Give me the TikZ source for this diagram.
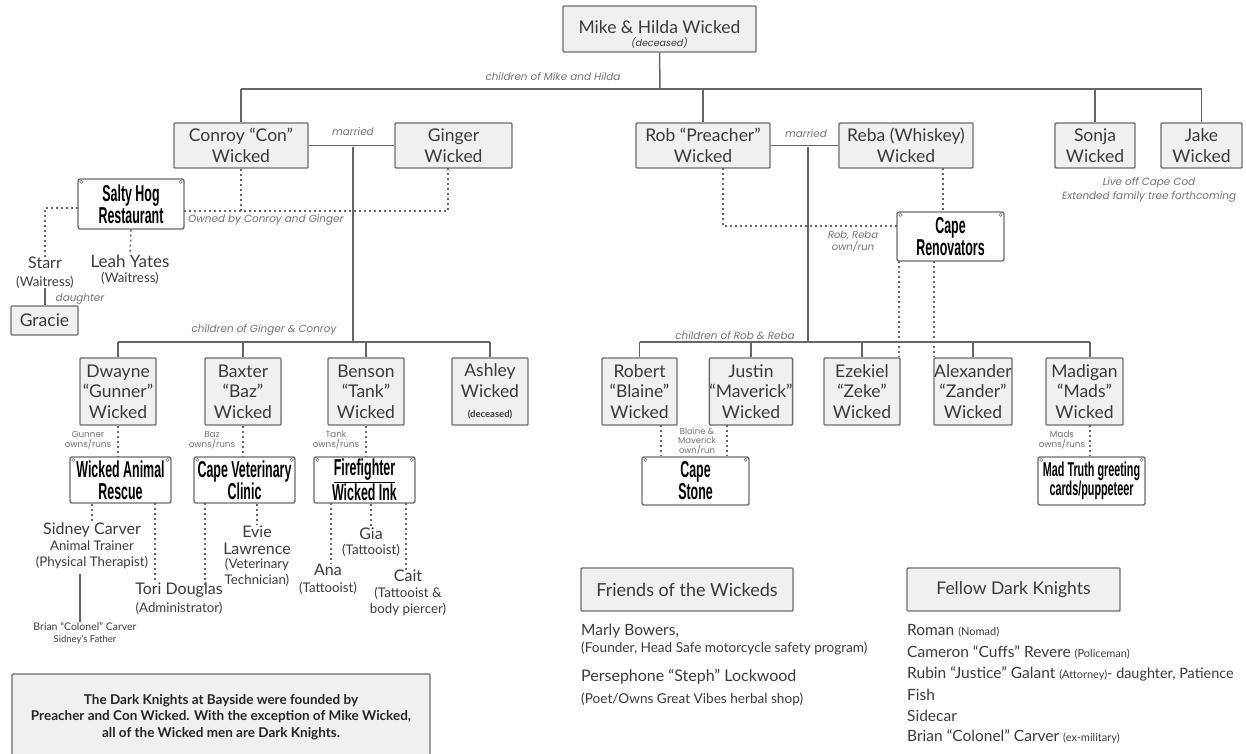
\documentclass[tikz,border=0pt]{standalone}
\usepackage{fontspec}
\setmainfont{Lato}
\newfontfamily\signfont[FakeStretch=0.54]{Liberation Sans}
\newfontfamily\remarkfont{Poppins}
\usepackage{tikz}
\usetikzlibrary{positioning,calc}
\definecolor{inkc}{HTML}{3A3A3A}
\tikzset{person/.style={draw=gray!85!black, fill=gray!12, line width=1.4pt, rounded corners=1pt,
            inner sep=0pt, align=center, text=inkc, font=\fontsize{17.5}{20.5}\selectfont},
         sign/.style={draw=gray!85!black, fill=white, line width=1.4pt, rounded corners=2pt,
            inner sep=0pt, align=center, text=black, font=\signfont\bfseries\fontsize{23}{22}\selectfont},
         wh/.style 2 args={minimum width=#1pt, minimum height=#2pt},
         staff/.style={inner sep=0pt, align=center, text=inkc, font=\fontsize{16}{17}\selectfont},
         job/.style={inner sep=0pt, align=center, text=inkc, font=\fontsize{13.3}{16}\selectfont},
         remark/.style={inner sep=0pt, align=center, text=gray!90!black, font=\remarkfont\itshape\fontsize{10.4}{14}\selectfont},
         runs/.style={remark, font=\remarkfont\fontsize{8.8}{10.5}\selectfont},
         listline/.style={inner sep=0pt, anchor=west, text=inkc, font=\fontsize{15.5}{16}\selectfont},
         family/.style={draw=gray!80!black, line width=1.5pt},
         owner/.style={draw=gray!80!black, line width=1.5pt, dash pattern=on 2pt off 3pt},
         corner/.style={draw=gray, line width=0.6pt}
}
\newcommand{\sm}[1]{{\fontsize{11}{12}\selectfont #1}}
\begin{document}
\begin{tikzpicture}[x=1pt,y=-1pt]
    \useasboundingbox (0,0) rectangle (1246,753);
    % parents
    \node[person, wh={193}{46}] (mike) at (659.5,29) {\rule{0pt}{24pt}Mike \& Hilda Wicked\\[-8pt]{\remarkfont\itshape\fontsize{9.5}{10}\selectfont (deceased)}};
    \node[person, wh={134}{45}] (conroy) at (241,145.5) {Conroy “Con”\\Wicked};
    \node[person, wh={117}{45}] (ginger) at (453.5,145.5) {Ginger\\Wicked};
    \node[person, wh={134}{45}] (rob) at (703,145.5) {Rob “Preacher”\\Wicked};
    \node[person, wh={134}{45}] (reba) at (906,145.5) {Reba (Whiskey)\\Wicked};
    \node[person, wh={80}{45}] (sonja) at (1095,145.5) {Sonja\\Wicked};
    \node[person, wh={81}{45}] (jake) at (1201.5,145.5) {Jake\\Wicked};
    % kids of Con
    \node[person, wh={76}{67}] (dwayne) at (118,391.5) {Dwayne\\“Gunner”\\Wicked};
    \node[person, wh={76}{67}] (baxter) at (243,391.5) {Baxter\\“Baz”\\Wicked};
    \node[person, wh={76}{67}] (benson) at (366,391.5) {Benson\\“Tank”\\Wicked};
    \node[person, wh={76}{67}] (ashley) at (490,391.5) {Ashley\\Wicked\\{\bfseries\fontsize{9.5}{10}\selectfont (deceased)}};
    % kids of Rob
    \node[person, wh={75}{67}] (robert) at (639.5,391.5) {Robert\\“Blaine”\\Wicked};
    \node[person, wh={80}{67}] (justin) at (751,391.5) {Justin\\“Maverick”\\Wicked};
    \node[person, wh={76}{67}] (ezekiel) at (862,391.5) {Ezekiel\\“Zeke”\\Wicked};
    \node[person, wh={78}{67}] (alexander) at (973,391.5) {Alexander\\“Zander”\\Wicked};
    \node[person, wh={77}{67}] (madigan) at (1084.5,391.5) {Madigan\\“Mads”\\Wicked};
    \node[person, wh={67}{29}] (gracie) at (44.5,320.5) {Gracie};
    % businesses
    \node[sign, wh={106}{50}] (salty) at (131,204) {Salty Hog\\Restaurant};
    \node[sign, wh={107}{49}] (renov) at (950.5,236.5) {Cape\\Renovators};
    \node[sign, wh={101}{46}] (animal) at (120.5,480) {Wicked Animal\\Rescue};
    \node[sign, wh={101}{46}] (vet) at (244.5,480) {Cape Veterinary\\Clinic};
    \node[sign, wh={101}{46}] (ink) at (364.5,480) {\underline{Firefighter}\\Wicked Ink};
    \node[sign, wh={107}{48}] (stone) at (695.5,481) {Cape\\Stone};
    \node[sign, wh={107}{48}, font=\signfont\bfseries\fontsize{20}{19.5}\selectfont] (truth) at (1091.5,481) {Mad Truth greeting\\cards/puppeteer};
    \foreach \s in {salty,renov,animal,vet,ink,stone,truth}{
        \draw[corner] ($(\s.north west)+(4,3.5)$) circle (1.6pt);
        \draw[corner] ($(\s.north east)+(-4,3.5)$) circle (1.6pt);
    }
    % staff and friends
    \node[staff] (starr) at (45,263) {Starr};
    \node[job] (starrjob) at (45,282) {(Waitress)};
    \node[staff, font=\fontsize{17}{17}\selectfont] (leah) at (130,261) {Leah Yates};
    \node[job] (leahjob) at (130,278) {(Waitress)};
    \node[staff] (sidney) at (92,530) {Sidney Carver};
    \node[job] (sidneyjob) at (92,555) {Animal Trainer\\(Physical Therapist)};
    \node[inner sep=0pt, align=center, text=inkc, font=\fontsize{10.5}{13}\selectfont] (brian) at (85,633.5) {Brian “Colonel” Carver\\[-1pt]{\fontsize{9.5}{8}\selectfont Sidney’s Father}};
    \node[staff] (tori) at (179,590) {Tori Douglas};
    \node[job] (torijob) at (179,608) {(Administrator)};
    \node[staff] (evie) at (257,540) {Evie\\Lawrence};
    \node[job] (eviejob) at (257,572.5) {(Veterinary\\Technician)};
    \node[staff] (gia) at (371,534) {Gia};
    \node[job] (giajob) at (371,550) {(Tattooist)};
    \node[staff] (ana) at (328,570) {Ana};
    \node[job] (anajob) at (328,588) {(Tattooist)};
    \node[staff] (cait) at (408,576) {Cait};
    \node[job] (caitjob) at (408,601) {(Tattooist \&\\body piercer)};
    \coordinate (topbar) at (660,89);
    \coordinate (conwed) at (353,147);
    \coordinate (conbar) at (353,342);
    \coordinate (robwed) at (808,147);
    \coordinate (robbar) at (808,342);
    \coordinate (madsdot) at (1090,425);
    % family lines
    \path[family] (mike.south) edge (topbar)
        (conroy.north) edge (conroy.north |- topbar)
        (rob.north) edge (rob.north |- topbar)
        (sonja.north) edge (sonja.north |- topbar)
        (jake.north) edge (jake.north |- topbar)
        (conroy.north |- topbar) edge (jake.north |- topbar)
        (conroy.east) edge (ginger.west)
        (rob.east) edge (reba.west)
        (conwed) edge (conbar)
        (robwed) edge (robbar);
    \path[family] (dwayne.north |- conbar) edge (ashley.north |- conbar)
        (dwayne.north |- conbar) edge (dwayne.north)
        (baxter.north |- conbar) edge (baxter.north)
        (benson.north |- conbar) edge (benson.north)
        (ashley.north |- conbar) edge (ashley.north);
    \path[family] (robert.north |- robbar) edge (madsdot |- robbar)
        (robert.north |- robbar) edge (robert.north)
        (justin.north |- robbar) edge (justin.north)
        (ezekiel.north |- robbar) edge (ezekiel.north)
        (alexander.north |- robbar) edge (alexander.north)
        (madsdot |- robbar) edge (madsdot |- madigan.north);
    \draw[family] (starrjob.south) -- (gracie.north -| starrjob.south);
    \coordinate (sidneyline) at (80,574);
    \draw[family] (sidneyline) -- (sidneyline |- brian.north);
    % who owns what
    \coordinate (saltydot) at (184,211);
    \coordinate (gingerdot) at (448,168);
    \draw[owner] (saltydot) -| (gingerdot);
    \draw[owner] (conroy.south) -- (conroy.south |- saltydot);
    \coordinate (saltyleft) at (78,208);
    \draw[owner] (saltyleft) -| (starr.north);
    \draw[owner] (salty.south) -- (leah.north);
    \coordinate (robdot) at (723,168);
    \coordinate (renovleft) at (897,226);
    \draw[owner] (robdot) |- (renovleft);
    \coordinate (rebadot) at (943,168);
    \draw[owner] (rebadot) -- (rebadot |- renov.north);
    \coordinate (zekedot) at (899,261);
    \coordinate (zanderdot) at (934,261);
    \draw[owner] (zekedot) -- (zekedot |- ezekiel.north);
    \draw[owner] (zanderdot) -- (zanderdot |- alexander.north);
    \draw[owner] (dwayne.south) -- (dwayne.south |- animal.north);
    \draw[owner] (baxter.south) -- (baxter.south |- vet.north);
    \draw[owner] (benson.south) -- (benson.south |- ink.north);
    \coordinate (blainedot) at (661,425);
    \coordinate (maverickdot) at (727,425);
    \draw[owner] (blainedot) -- (blainedot |- stone.north);
    \draw[owner] (maverickdot) -- (maverickdot |- stone.north);
    \draw[owner] (madsdot) -- (madsdot |- truth.north);
    \draw[owner] (sidney.north |- animal.south) -- (sidney.north);
    \coordinate (toridot) at (155,503);
    \coordinate (toridotb) at (205,503);
    \draw[owner] (toridot) -- (155,580);
    \draw[owner] (toridotb) -- (205,585);
    \draw[owner] (evie.north |- vet.south) -- (evie.north);
    \coordinate (anadot) at (331,503);
    \coordinate (caitdot) at (406,503);
    \draw[owner] (anadot) -- (ana.north -| anadot);
    \draw[owner] (gia.north |- ink.south) -- (gia.north);
    \draw[owner] (caitdot) -- (cait.north -| caitdot);
    % remarks
    \node[remark] (kidsmike) at (553,77) {children of Mike and Hilda};
    \node[remark] (conmarried) at (353,132) {married};
    \node[remark] (robmarried) at (806,134) {married};
    \node[remark] (offcape) at (1149,190) {Live off Cape Cod\\Extended family tree forthcoming};
    \node[remark, anchor=west] (ownedby) at (188,220) {Owned by Conroy and Ginger};
    \node[remark] (daughter) at (80,299) {daughter};
    \node[remark] (kidscon) at (264,330) {children of Ginger \& Conroy};
    \node[remark] (kidsrob) at (735,336) {children of Rob \& Reba};
    \node[remark, font=\remarkfont\itshape\fontsize{10}{12}\selectfont] (renovown) at (853,242) {Rob, Reba\\own/run};
    \node[runs] (gunnerown) at (88,440) {Gunner\\owns/runs};
    \node[runs] (bazown) at (212,440) {Baz\\owns/runs};
    \node[runs] (tankown) at (336,440) {Tank\\owns/runs};
    \node[runs, font=\remarkfont\fontsize{8.5}{9.5}\selectfont] (stoneown) at (697,441) {Blaine \&\\Maverick\\own/run};
    \node[runs] (madsown) at (1062,440) {Mads\\owns/runs};
    % bottom of the page
    \node[person, wh={212}{43}, font=\fontsize{18}{18}\selectfont] (friends) at (687,589.5) {Friends of the Wickeds};
    \node[person, wh={213}{43}, font=\fontsize{17.5}{18}\selectfont] (fellow) at (1013.5,589.5) {Fellow Dark Knights};
    \node[listline] (marly) at (581,631) {Marly Bowers,};
    \node[listline, font=\fontsize{13.6}{14}\selectfont] (marlyjob) at (581,648) {(Founder, Head Safe motorcycle safety program)};
    \node[listline, font=\fontsize{16}{16}\selectfont] (steph) at (581,677) {Persephone “Steph” Lockwood};
    \node[listline, font=\fontsize{13.6}{14}\selectfont] (stephjob) at (581,699) {(Poet/Owns Great Vibes herbal shop)};
    \node[listline] (roman) at (907,631) {Roman \sm{(Nomad)}};
    \node[listline] (cuffs) at (907,652) {Cameron “Cuffs” Revere \sm{(Policeman)}};
    \node[listline] (rubin) at (907,674) {Rubin “Justice” Galant \sm{(Attorney)}{\fontsize{14.4}{14}\selectfont- daughter, Patience}};
    \node[listline] (fish) at (907,695) {Fish};
    \node[listline] (sidecar) at (907,716) {Sidecar};
    \node[listline] (colonel) at (907,737) {Brian “Colonel” Carver \sm{(ex-military)}};
    \node[person, wh={418}{86}, font=\bfseries\fontsize{13.5}{16.5}\selectfont, text=black!85] (founded) at (221,717) {The Dark Knights at Bayside were founded by\\Preacher and Con Wicked. With the exception of Mike Wicked,\\all of the Wicked men are Dark Knights.};
\end{tikzpicture}
\end{document}
